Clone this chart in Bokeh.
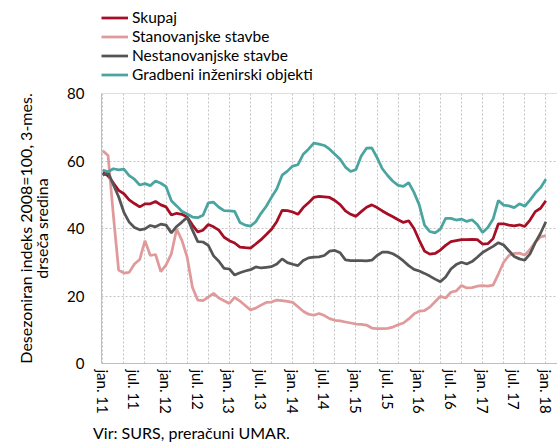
from bokeh.plotting import figure
from bokeh.layouts import column
from bokeh.models import Range1d, FixedTicker, Legend, LegendItem, Span, Div
from bokeh.embed import file_html
from bokeh.resources import INLINE

# month index 0 = jan. 2011 ... 84 = jan. 2018
months = list(range(85))

tick_positions = [0, 6, 12, 18, 24, 30, 36, 42, 48, 54, 60, 66, 72, 78, 84]
tick_labels = ["jan. 11", "jul. 11", "jan. 12", "jul. 12", "jan. 13", "jul. 13",
               "jan. 14", "jul. 14", "jan. 15", "jul. 15", "jan. 16", "jul. 16",
               "jan. 17", "jul. 17", "jan. 18"]
grid_positions = list(range(0, 85, 4))
y_ticks = [0, 20, 40, 60, 80]

series_names = ["Skupaj", "Stanovanjske stavbe", "Nestanovanjske stavbe",
                "Gradbeni inženirski objekti"]

skupaj = [56.6, 55.6, 53.5, 51.3, 50.3, 48.5, 47.4, 46.4, 47.3, 47.3,
          48.0, 47.0, 46.4, 44.0, 44.5, 44.2, 43.4, 41.0, 39.0, 39.5,
          41.2, 40.5, 39.5, 37.4, 36.4, 35.7, 34.5, 34.3, 34.2, 35.4,
          36.7, 38.2, 39.8, 42.1, 45.4, 45.3, 44.9, 44.2, 46.2, 47.6,
          49.2, 49.5, 49.4, 49.2, 48.3, 47.1, 45.2, 44.2, 43.6, 45.0,
          46.3, 47.0, 46.2, 45.2, 44.3, 43.5, 42.6, 41.8, 42.3, 40.0,
          36.5, 33.3, 32.4, 32.6, 33.6, 35.0, 36.1, 36.4, 36.7, 36.7,
          36.8, 36.7, 35.4, 35.5, 37.0, 41.4, 41.4, 41.0, 40.8, 41.1,
          40.6, 42.5, 45.0, 46.0, 48.2]

stanovanjske = [63.0, 61.6, 44.0, 27.7, 26.8, 27.0, 29.5, 30.8, 36.4, 32.0,
                32.3, 27.2, 29.2, 32.5, 39.8, 36.5, 31.5, 22.5, 18.8, 18.6,
                19.7, 20.8, 19.4, 18.6, 17.8, 19.6, 18.5, 17.2, 15.9, 16.4,
                17.3, 18.1, 18.2, 18.8, 18.6, 18.4, 18.1, 16.8, 15.5, 14.6,
                14.3, 14.8, 14.2, 13.3, 12.8, 12.6, 12.3, 12.0, 11.7, 11.6,
                11.4, 10.5, 10.3, 10.3, 10.4, 10.8, 11.5, 12.0, 13.2, 14.7,
                15.5, 15.7, 16.7, 18.3, 19.9, 19.4, 21.1, 21.5, 23.1, 22.4,
                22.5, 22.9, 23.1, 22.9, 23.2, 26.5, 30.0, 32.0, 32.6, 32.7,
                32.1, 33.8, 36.0, 37.5, 37.9]

nestanovanjske = [55.8, 56.6, 53.0, 49.4, 44.8, 41.9, 40.3, 39.6, 39.9, 40.9,
                  40.5, 41.3, 41.0, 38.7, 40.6, 41.9, 43.3, 39.5, 36.1, 36.0,
                  35.0, 31.9, 30.3, 28.2, 28.0, 26.2, 26.9, 27.4, 27.8, 28.6,
                  28.3, 28.5, 28.7, 29.5, 31.0, 29.9, 29.4, 29.0, 30.5, 31.3,
                  31.5, 31.6, 32.0, 33.3, 33.5, 32.8, 30.7, 30.5, 30.5, 30.5,
                  30.4, 30.6, 32.0, 33.0, 33.0, 32.5, 31.6, 30.4, 29.0, 27.9,
                  27.4, 26.7, 25.9, 25.0, 24.2, 25.6, 28.0, 29.3, 30.0, 29.5,
                  30.2, 31.5, 32.9, 33.8, 34.7, 35.8, 35.1, 33.4, 31.7, 31.0,
                  30.6, 32.5, 35.8, 38.6, 42.0]

gradbeni = [57.3, 56.8, 57.7, 57.4, 57.6, 55.7, 54.6, 52.9, 53.3, 52.7,
            54.1, 53.4, 52.4, 48.2, 46.7, 45.1, 44.3, 43.4, 43.2, 43.9,
            47.6, 47.8, 46.3, 45.3, 45.2, 45.1, 41.8, 41.0, 40.7, 42.0,
            44.5, 46.6, 49.3, 51.8, 55.8, 57.0, 58.5, 58.9, 62.0, 63.5,
            65.3, 65.0, 64.6, 63.5, 62.0, 60.5, 58.2, 56.9, 57.5, 61.5,
            63.8, 63.9, 61.0, 57.7, 55.7, 54.0, 52.8, 52.5, 53.6, 50.7,
            47.0, 41.0, 39.1, 38.7, 39.8, 43.0, 43.0, 42.5, 42.8, 42.1,
            42.6, 41.2, 38.8, 40.3, 42.8, 48.3, 46.9, 46.7, 46.2, 47.3,
            46.6, 48.4, 50.5, 52.1, 54.6]

all_series = [skupaj, stanovanjske, nestanovanjske, gradbeni]
source_note = "Vir: SURS, preračuni UMAR."

colors = ["#a50e24", "#e09a9b", "#555555", "#4aa5a1"]
FONT = "Lato"
W = 557

# ---------- legend strip (top) ----------
lf = figure(width=W, height=85, output_backend="svg", toolbar_location=None,
            x_axis_type=None, y_axis_type=None, x_range=Range1d(0, 1), y_range=Range1d(0, 1),
            min_border_left=101, min_border_right=0, min_border_top=0, min_border_bottom=0)
lf.outline_line_color = None
lf.grid.visible = False
# the series are drawn here only to key the legend; they fall outside this strip's view
leg_renderers = [lf.line(months, s, line_color=c, line_width=2.75)
                 for s, c in zip(all_series, colors)]
legend = Legend(items=[LegendItem(label=n, renderers=[r]) for n, r in zip(series_names, leg_renderers)],
                location=(0, 1.5), orientation="vertical",
                glyph_width=27, glyph_height=19, label_height=19, label_standoff=4,
                spacing=0, padding=0, margin=0,
                label_text_font=FONT, label_text_font_size="15.5px", label_text_color="black",
                background_fill_alpha=0, border_line_color=None)
lf.add_layout(legend)

# ---------- main chart ----------
p = figure(width=W, height=338, output_backend="svg", toolbar_location=None,
           x_range=Range1d(-0.246, 86.21), y_range=Range1d(0, 80),
           min_border_left=101, min_border_right=0, min_border_top=8,
           min_border_bottom=60)
p.outline_line_color = None

p.xaxis.ticker = FixedTicker(ticks=tick_positions)
p.xaxis.major_label_overrides = {t: l for t, l in zip(tick_positions, tick_labels)}
p.xaxis.major_label_orientation = "vertical"
p.xaxis.major_tick_line_color = None
p.xaxis.major_tick_out = 0
p.xaxis.major_tick_in = 0
p.xaxis.minor_tick_line_color = None
p.xaxis.axis_line_color = "#bfbfbf"
p.xaxis.major_label_standoff = 6
p.xaxis.major_label_text_font = FONT
p.xaxis.major_label_text_font_size = "15px"
p.xaxis.major_label_text_color = "black"

p.yaxis.ticker = FixedTicker(ticks=y_ticks)
p.yaxis.major_tick_line_color = None
p.yaxis.major_tick_out = 0
p.yaxis.major_tick_in = 0
p.yaxis.minor_tick_line_color = None
p.yaxis.axis_line_color = "#bfbfbf"
p.yaxis.major_label_standoff = 17
p.yaxis.major_label_text_font = FONT
p.yaxis.major_label_text_font_size = "15px"
p.yaxis.major_label_text_color = "black"
p.yaxis.axis_label = "Desezoniran indeks 2008=100, 3-mes.\ndrseča sredina"
p.yaxis.axis_label_text_font = FONT
p.yaxis.axis_label_text_font_size = "16px"
p.yaxis.axis_label_text_font_style = "normal"
p.yaxis.axis_label_text_color = "black"
p.yaxis.axis_label_text_line_height = 0.85
p.yaxis.axis_label_standoff = 13

p.xgrid.ticker = FixedTicker(ticks=grid_positions)
p.xgrid.grid_line_color = "#c4c4c4"
p.xgrid.grid_line_dash = "2 2"
p.ygrid.grid_line_color = "#c4c4c4"
p.ygrid.grid_line_dash = "2 2"

p.add_layout(Span(location=80, dimension="width", line_color="#bfbfbf", line_width=1))

for data, color in zip(all_series, colors):
    p.line(months, data, line_color=color, line_width=2.75)

# ---------- source note (bottom) ----------
note = Div(text=('<div style="padding-left:93px;font-family:Lato;font-size:16px;'
                 'line-height:20px;color:black;white-space:nowrap;">' + source_note + '</div>'),
           width=W, height=20, margin=0)

layout = column(lf, p, note, spacing=0)
open("out.html", "w").write(file_html(layout, INLINE))
